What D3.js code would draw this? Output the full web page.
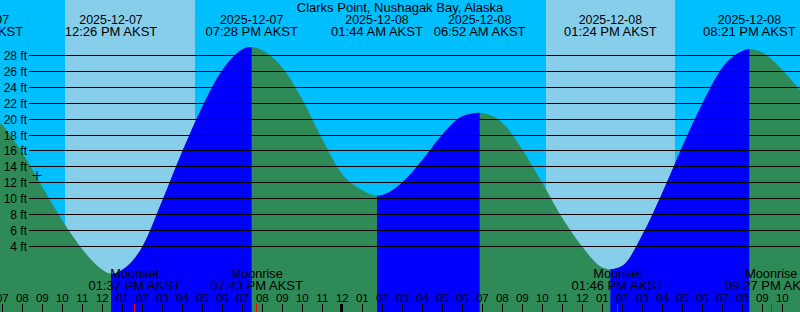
<!DOCTYPE html>
<html>
<head>
<meta charset="utf-8">
<script src="https://cdn.jsdelivr.net/npm/d3@7"></script>
<style>
  body { margin: 0; background: #fff; }
  svg { display: block; }
  text { font-family: "Liberation Sans", Arial, sans-serif; fill: #000; }
</style>
</head>
<body>
<div id="chart"></div>
<script>
// values (times are local AKST)
var title = "Clarks Point, Nushagak Bay, Alaska";
var windowStart = "2025-12-07 06:53";
var windowEnd = "2025-12-08 22:53";

var tideTimes = [
    "2025-12-07 05:45", "2025-12-07 07:00", "2025-12-07 08:00", "2025-12-07 09:00",
    "2025-12-07 10:00", "2025-12-07 11:00", "2025-12-07 12:00", "2025-12-07 12:26",
    "2025-12-07 13:00", "2025-12-07 14:00", "2025-12-07 15:00", "2025-12-07 16:00",
    "2025-12-07 17:00", "2025-12-07 18:00", "2025-12-07 19:00", "2025-12-07 19:28",
    "2025-12-07 20:00", "2025-12-07 21:00", "2025-12-07 22:00", "2025-12-07 23:00",
    "2025-12-08 00:00", "2025-12-08 01:00", "2025-12-08 01:44", "2025-12-08 02:00",
    "2025-12-08 03:00", "2025-12-08 04:00", "2025-12-08 05:00", "2025-12-08 06:00",
    "2025-12-08 06:52", "2025-12-08 07:00", "2025-12-08 08:00", "2025-12-08 09:00",
    "2025-12-08 10:00", "2025-12-08 11:00", "2025-12-08 12:00", "2025-12-08 13:00",
    "2025-12-08 13:24", "2025-12-08 14:00", "2025-12-08 15:00", "2025-12-08 16:00",
    "2025-12-08 17:00", "2025-12-08 18:00", "2025-12-08 19:00", "2025-12-08 20:00",
    "2025-12-08 20:21", "2025-12-08 21:00", "2025-12-08 22:00", "2025-12-08 23:00"
];
var tideLevels = [
    21.5, 19.2, 15.7, 11.4,
    7.2, 3.6, 1.0, 0.5,
    1.0, 3.9, 9.7, 15.9,
    21.5, 26.1, 28.7, 29.0,
    28.6, 26.4, 22.4, 17.4,
    13.0, 11.0, 10.3, 10.4,
    12.0, 14.8, 18.0, 20.3,
    20.75, 20.7, 19.5, 16.1,
    11.9, 7.5, 3.9, 1.3,
    1.07, 1.5, 5.4, 10.7,
    16.5, 21.9, 26.4, 28.5,
    28.75, 28.3, 26.1, 23.2
];

var eventTimes = [
    "2025-12-07 05:45", "2025-12-07 12:26", "2025-12-07 19:28", "2025-12-08 01:44",
    "2025-12-08 06:52", "2025-12-08 13:24", "2025-12-08 20:21"
];
var eventTypes = ["high", "low", "high", "low", "high", "low", "high"];

var sunrises = ["2025-12-07 10:08", "2025-12-08 10:11"];
var sunsets = ["2025-12-07 16:38", "2025-12-08 16:38"];

var moonTimes = ["2025-12-07 13:37", "2025-12-07 19:43", "2025-12-08 13:46", "2025-12-08 21:27"];
var moonNames = ["Moonset", "Moonrise", "Moonset", "Moonrise"];

var levelTicks = [4, 6, 8, 10, 12, 14, 16, 18, 20, 22, 24, 26, 28];

var nowTime = "2025-12-07 08:44";
var nowLevel = 12.9;

var svgWidth = 800;
var svgHeight = 312;

var parseTime = d3.utcParse("%Y-%m-%d %H:%M");
var fmtDate = d3.utcFormat("%Y-%m-%d");
var fmtClock = d3.utcFormat("%I:%M %p AKST");
var fmtHour = d3.utcFormat("%I");

var svg = d3.select("#chart").append("svg")
    .attr("width", svgWidth)
    .attr("height", svgHeight);

var xScale = d3.scaleUtc()
    .domain([parseTime(windowStart), parseTime(windowEnd)])
    .range([0, svgWidth]);

var yScale = d3.scaleLinear()
    .domain([0, 28])
    .range([277.8, 55]);

var tideData = tideTimes.map(function(t, i) {
    return { time: parseTime(t), level: tideLevels[i] };
});

// night sky, then daylight bands
svg.append("rect")
    .attr("width", svgWidth)
    .attr("height", svgHeight)
    .attr("fill", "#00bfff");

svg.append("g").selectAll("rect")
    .data(sunrises)
    .enter()
    .append("rect")
    .attr("x", d => xScale(parseTime(d)))
    .attr("y", 0)
    .attr("width", (d, i) => xScale(parseTime(sunsets[i])) - xScale(parseTime(d)))
    .attr("height", svgHeight)
    .attr("fill", "#87ceeb");

// rising stretches (low -> next high) get the blue fill
var rising = [];
eventTypes.forEach(function(type, i) {
    if (type === "low" && i + 1 < eventTimes.length) {
        rising.push([parseTime(eventTimes[i]), parseTime(eventTimes[i + 1])]);
    }
});

var defs = svg.append("defs");
defs.append("clipPath")
    .attr("id", "risingClip")
    .selectAll("rect")
    .data(rising)
    .enter()
    .append("rect")
    .attr("x", d => xScale(d[0]))
    .attr("y", 0)
    .attr("width", d => xScale(d[1]) - xScale(d[0]))
    .attr("height", svgHeight);

var area = d3.area()
    .x(d => xScale(d.time))
    .y0(svgHeight)
    .y1(d => yScale(d.level))
    .curve(d3.curveMonotoneX);

svg.append("path")
    .datum(tideData)
    .attr("fill", "#2e8b57")
    .attr("d", area);

svg.append("path")
    .datum(tideData)
    .attr("fill", "#0000ff")
    .attr("clip-path", "url(#risingClip)")
    .attr("d", area);

// level grid
var grid = svg.append("g");
grid.selectAll("line")
    .data(levelTicks)
    .enter()
    .append("line")
    .attr("x1", 29)
    .attr("x2", svgWidth)
    .attr("y1", d => Math.round(yScale(d)) + 0.5)
    .attr("y2", d => Math.round(yScale(d)) + 0.5)
    .attr("stroke", "#000")
    .attr("stroke-width", 1);

grid.selectAll("text")
    .data(levelTicks)
    .enter()
    .append("text")
    .attr("x", 27)
    .attr("y", d => Math.round(yScale(d)) + 4.5)
    .attr("text-anchor", "end")
    .style("font-size", "12px")
    .text(d => d + " ft");

// title and tide event labels
svg.append("text")
    .attr("x", svgWidth / 2)
    .attr("y", 12)
    .attr("text-anchor", "middle")
    .style("font-size", "13px")
    .text(title);

var evLabels = svg.append("g").selectAll("g")
    .data(eventTimes)
    .enter()
    .append("g")
    .attr("transform", d => `translate(${xScale(parseTime(d))}, 0)`);

evLabels.append("text")
    .attr("y", 23.5)
    .attr("text-anchor", "middle")
    .style("font-size", "12.4px")
    .text(d => fmtDate(parseTime(d)));

evLabels.append("text")
    .attr("y", 36)
    .attr("text-anchor", "middle")
    .style("font-size", "13px")
    .text(d => fmtClock(parseTime(d)));

// moon rise / set labels
var moonLabels = svg.append("g").selectAll("g")
    .data(moonTimes)
    .enter()
    .append("g")
    .attr("transform", d => `translate(${xScale(parseTime(d))}, 0)`);

moonLabels.append("text")
    .attr("y", 278)
    .attr("text-anchor", "middle")
    .style("font-size", "12.7px")
    .text((d, i) => moonNames[i]);

moonLabels.append("text")
    .attr("y", 290)
    .attr("text-anchor", "middle")
    .style("font-size", "13px")
    .text(d => fmtClock(parseTime(d)));

// hour axis along the bottom
var hours = d3.utcHour.range(parseTime(windowStart), parseTime(windowEnd));

var hourAxis = svg.append("g");
hourAxis.selectAll("text")
    .data(hours)
    .enter()
    .append("text")
    .attr("x", d => xScale(d))
    .attr("y", 302)
    .attr("text-anchor", "middle")
    .style("font-size", "11.5px")
    .text(d => fmtHour(d));

hourAxis.selectAll("rect")
    .data(hours)
    .enter()
    .append("rect")
    .attr("x", d => d.getUTCHours() === 0 ? Math.floor(xScale(d)) - 2 : Math.floor(xScale(d)))
    .attr("y", 304)
    .attr("width", d => d.getUTCHours() === 0 ? 3 : 1)
    .attr("height", 8)
    .attr("fill", "#000");

svg.append("g").selectAll("rect")
    .data(moonTimes)
    .enter()
    .append("rect")
    .attr("x", d => Math.floor(xScale(parseTime(d))))
    .attr("y", 304)
    .attr("width", 1)
    .attr("height", 8)
    .attr("fill", "#ff0000");

// current time marker
var nx = Math.floor(xScale(parseTime(nowTime))) - 0.5;
var ny = Math.round(yScale(nowLevel)) + 0.5;
svg.append("path")
    .attr("d", `M${nx - 4},${ny}H${nx + 5}M${nx + 0.5},${ny - 4.5}V${ny + 4.5}`)
    .attr("stroke", "#000")
    .attr("stroke-width", 1)
    .attr("fill", "none");
</script>
</body>
</html>
